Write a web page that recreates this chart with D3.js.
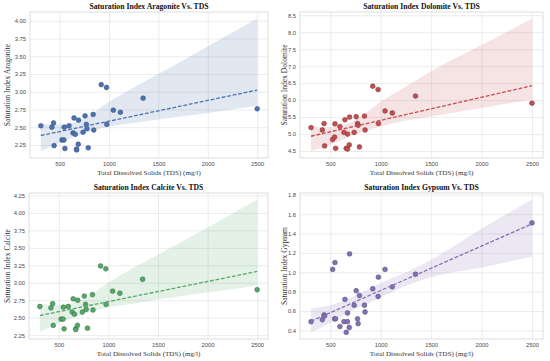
<!DOCTYPE html>
<html>
<head>
<meta charset="utf-8">
<script src="https://cdn.jsdelivr.net/npm/d3@7"></script>
<style>
  body { margin: 0; background: #fff; }
  svg { display: block; }
</style>
</head>
<body>
<svg id="chart" width="550" height="361"></svg>
<script>
// samples (same TDS for every mineral)
const tds = [309, 421, 438, 444, 523, 543, 546, 553, 595, 635, 645, 658, 671, 671, 688,
             691, 737, 757, 770, 776, 789, 839, 845, 921, 974, 977, 1043, 1115, 1345, 2500]

const siAragonite = [2.52, 2.50, 2.56, 2.24, 2.32, 2.32, 2.50, 2.20, 2.52, 2.42, 2.63, 2.40, 2.19, 2.18, 2.26,
                     2.60, 2.43, 2.66, 2.54, 2.48, 2.21, 2.68, 2.46, 3.10, 3.06, 2.54, 2.74, 2.71, 2.91, 2.76]
const siDolomite = [5.19, 5.12, 5.31, 4.65, 4.84, 4.91, 5.30, 4.58, 5.22, 5.05, 5.42, 4.58, 5.00, 4.56, 4.68,
                    5.50, 5.05, 5.51, 5.31, 5.26, 4.62, 5.53, 5.12, 6.41, 6.31, 5.31, 5.68, 5.62, 6.12, 5.91]
const siCalcite = [2.66, 2.64, 2.70, 2.39, 2.48, 2.48, 2.65, 2.34, 2.66, 2.58, 2.77, 2.55, 2.34, 2.33, 2.39,
                   2.75, 2.58, 2.81, 2.69, 2.62, 2.35, 2.83, 2.61, 3.24, 3.20, 2.69, 2.88, 2.85, 3.05, 2.90]
const siGypsum = [0.49, 0.51, 0.56, 0.55, 1.03, 0.52, 1.10, 0.52, 0.44, 0.49, 0.72, 0.38, 0.58, 0.49, 0.43,
                  1.19, 0.66, 0.81, 0.52, 0.47, 0.76, 0.66, 0.59, 0.83, 0.75, 0.95, 1.03, 0.85, 0.98, 1.51]

// 95% band edges
const bandTds = [309, 500, 750, 1000, 1250, 1500, 2000, 2500]
const aragoniteLo = [2.16, 2.28, 2.41, 2.51, 2.56, 2.61, 2.70, 2.80]
const aragoniteHi = [2.55, 2.54, 2.62, 2.86, 3.06, 3.25, 3.64, 4.03]
const dolomiteLo = [4.49, 4.69, 4.99, 5.22, 5.40, 5.52, 5.77, 6.02]
const dolomiteHi = [5.20, 5.21, 5.41, 5.95, 6.40, 6.85, 7.62, 8.40]
const calciteLo = [2.29, 2.42, 2.55, 2.65, 2.70, 2.76, 2.86, 2.96]
const calciteHi = [2.70, 2.68, 2.76, 3.00, 3.21, 3.40, 3.79, 4.19]
const gypsumLo = [0.38, 0.48, 0.62, 0.74, 0.86, 0.95, 1.05, 1.16]
const gypsumHi = [0.63, 0.66, 0.76, 0.89, 1.00, 1.13, 1.45, 1.75]

const xTicks = [500, 1000, 1500, 2000, 2500]
const aragoniteTicks = [2.25, 2.50, 2.75, 3.00, 3.25, 3.50, 3.75, 4.00]
const dolomiteTicks = [4.5, 5.0, 5.5, 6.0, 6.5, 7.0, 7.5, 8.0, 8.5]
const calciteTicks = [2.25, 2.50, 2.75, 3.00, 3.25, 3.50, 3.75, 4.00, 4.25]
const gypsumTicks = [0.4, 0.6, 0.8, 1.0, 1.2, 1.4, 1.6, 1.8]

const xLabel = "Total Dissolved Solids (TDS) (mg/l)"

const panels = [
  { name: "Aragonite", values: siAragonite, lo: aragoniteLo, hi: aragoniteHi, ticks: aragoniteTicks,
    fmt: ".2f", color: "#4c72b0", edge: "#2f4a78", box: { left: 30, top: 12, right: 268, bottom: 158 }, ylabX: 7 },
  { name: "Dolomite", values: siDolomite, lo: dolomiteLo, hi: dolomiteHi, ticks: dolomiteTicks,
    fmt: ".1f", color: "#c44e52", edge: "#7a2a2d", box: { left: 300, top: 12, right: 543, bottom: 158 }, ylabX: 284 },
  { name: "Calcite", values: siCalcite, lo: calciteLo, hi: calciteHi, ticks: calciteTicks,
    fmt: ".2f", color: "#55a868", edge: "#2f6b3d", box: { left: 29, top: 193, right: 268, bottom: 339 }, ylabX: 7 },
  { name: "Gypsum", values: siGypsum, lo: gypsumLo, hi: gypsumHi, ticks: gypsumTicks,
    fmt: ".1f", color: "#8172b3", edge: "#4f4577", box: { left: 300, top: 193, right: 543, bottom: 339 }, ylabX: 284 }
]

const svg = d3.select("#chart")

function fitLine(xs, ys) {
  const mx = d3.mean(xs), my = d3.mean(ys)
  let sxy = 0, sxx = 0
  xs.forEach((x, i) => { sxy += (x - mx) * (ys[i] - my); sxx += (x - mx) * (x - mx) })
  const b = sxy / sxx
  return x => my + b * (x - mx)
}

function padded(ext) {
  const m = (ext[1] - ext[0]) * 0.05
  return [ext[0] - m, ext[1] + m]
}

panels.forEach(p => {
  const b = p.box
  const g = svg.append("g")

  const xScale = d3.scaleLinear().domain(padded(d3.extent(tds))).range([b.left, b.right])
  const yScale = d3.scaleLinear()
      .domain(padded(d3.extent([...p.values, ...p.lo, ...p.hi])))
      .range([b.bottom, b.top])

  // grid + ticks
  const xAxis = g.append("g")
      .attr("transform", `translate(0,${b.bottom})`)
      .call(d3.axisBottom(xScale).tickValues(xTicks).tickSize(-(b.bottom - b.top)).tickPadding(4).tickFormat(d3.format("d")))
  const yAxis = g.append("g")
      .attr("transform", `translate(${b.left},0)`)
      .call(d3.axisLeft(yScale).tickValues(p.ticks).tickSize(-(b.right - b.left)).tickPadding(4).tickFormat(d3.format(p.fmt)))

  ;[xAxis, yAxis].forEach(a => {
    a.select(".domain").remove()
    a.selectAll("line").attr("stroke", "#e4e4e4").attr("stroke-width", 0.7)
    a.selectAll("text")
     .attr("fill", "#4a4a4a")
     .style("font-family", "'Liberation Sans', Arial, sans-serif")
     .style("font-size", "5.8px")
  })

  g.append("rect")
   .attr("x", b.left).attr("y", b.top)
   .attr("width", b.right - b.left).attr("height", b.bottom - b.top)
   .attr("fill", "none").attr("stroke", "#d4d4d4").attr("stroke-width", 0.8)

  // confidence band
  const band = bandTds.map((t, i) => ({ t: t, lo: p.lo[i], hi: p.hi[i] }))
  g.append("path")
   .datum(band)
   .attr("d", d3.area().x(d => xScale(d.t)).y0(d => yScale(d.lo)).y1(d => yScale(d.hi)).curve(d3.curveMonotoneX))
   .attr("fill", p.color)
   .attr("fill-opacity", 0.16)

  // points
  g.selectAll("circle")
   .data(tds.map((t, i) => ({ t: t, v: p.values[i] })))
   .join("circle")
   .attr("cx", d => xScale(d.t))
   .attr("cy", d => yScale(d.v))
   .attr("r", 2.4)
   .attr("fill", p.color)
   .attr("stroke", p.edge)
   .attr("stroke-width", 0.5)

  // regression line
  const f = fitLine(tds, p.values)
  const ends = d3.extent(tds)
  g.append("path")
   .datum(ends)
   .attr("d", d3.line().x(d => xScale(d)).y(d => yScale(f(d))))
   .attr("fill", "none")
   .attr("stroke", p.color)
   .attr("stroke-width", 1.3)
   .attr("stroke-dasharray", "3.8,1.8")

  // labels
  const cx = (b.left + b.right) / 2
  g.append("text")
   .attr("x", cx).attr("y", b.top - 3)
   .attr("text-anchor", "middle")
   .style("font-family", "'Liberation Serif', 'Times New Roman', serif")
   .style("font-weight", "bold")
   .style("font-size", "7.7px")
   .attr("fill", "#111")
   .text(`Saturation Index ${p.name} Vs. TDS`)

  g.append("text")
   .attr("x", cx).attr("y", b.bottom + 16.8)
   .attr("text-anchor", "middle")
   .style("font-family", "'Liberation Serif', 'Times New Roman', serif")
   .style("font-size", "7.1px")
   .attr("fill", "#333")
   .text(xLabel)

  g.append("text")
   .attr("transform", `translate(${p.ylabX + 2.6},${(b.top + b.bottom) / 2}) rotate(-90)`)
   .attr("text-anchor", "middle")
   .style("font-family", "'Liberation Serif', 'Times New Roman', serif")
   .style("font-size", "7.6px")
   .attr("fill", "#333")
   .text(`Saturation Index ${p.name}`)
})
</script>
</body>
</html>
